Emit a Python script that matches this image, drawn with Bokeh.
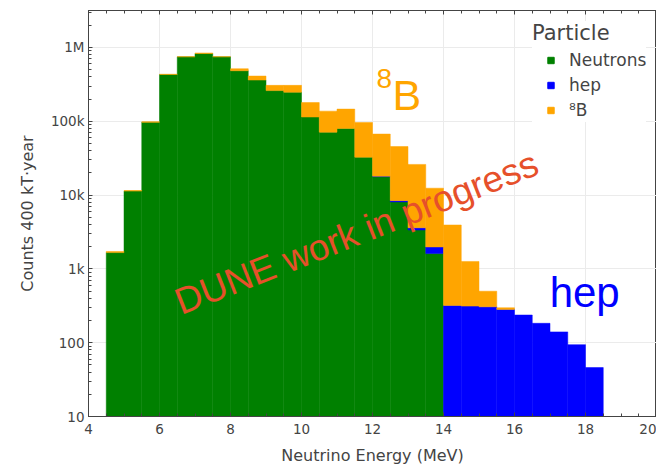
from bokeh.plotting import figure
from bokeh.models import (FixedTicker, LinearAxis, Range1d, Label, Legend, LegendItem)
from bokeh.embed import file_html
from bokeh.resources import INLINE

# ---- data (counts per 0.5 MeV bin) ----
bin_left = [4.5, 5.0, 5.5, 6.0, 6.5, 7.0, 7.5, 8.0, 8.5, 9.0, 9.5, 10.0, 10.5, 11.0,
            11.5, 12.0, 12.5, 13.0, 13.5, 14.0, 14.5, 15.0, 15.5, 16.0, 16.5, 17.0, 17.5, 18.0]
bin_width = 0.5
neutrons = [1660, 11300, 97000, 430000, 745000, 826000, 745000, 483000, 361000, 260000,
            247000, 114000, 71000, 80000, 32600, 17700, 8070, 3360, 1610, 0,
            0, 0, 0, 0, 0, 0, 0, 0]
hep = [0, 0, 0, 0, 0, 0, 0, 0, 0, 0,
       0, 0, 0, 0, 0, 300, 330, 240, 370, 318,
       312, 305, 281, 236, 182, 139, 93, 45]
b8 = [60, 200, 1000, 2000, 5000, 14000, 5000, 31000, 48000, 46000,
      59000, 65000, 66000, 66000, 63400, 49000, 37000, 22400, 10400, 3610,
      948, 192, 15, 0, 0, 0, 0, 0]
series = [neutrons, hep, b8]
series_names = ["Neutrons", "hep", "\u2078B"]
series_colors = ["#008000", "#0000ff", "#ffa500"]

x_major = [4, 6, 8, 10, 12, 14, 16, 18, 20]
x_minor = [4 + 0.5 * i for i in range(33)]
y_major = [10, 100, 1000, 10000, 100000, 1000000]
y_labels = {10: "10", 100: "100", 1000: "1k", 10000: "10k", 100000: "100k", 1000000: "1M"}
y_minor = [k * 10 ** d for d in range(1, 7) for k in range(2, 10)]

TXT = "#444444"
FONT = "DejaVu Sans"

p = figure(width=656, height=467, x_range=Range1d(4, 20), y_range=Range1d(10, 10 ** 6.5),
           y_axis_type="log", output_backend="svg", toolbar_location=None,
           min_border_left=88, min_border_right=0, min_border_top=10, min_border_bottom=50,
           background_fill_color="white", border_fill_color="white")
p.outline_line_color = "#444444"
p.outline_line_width = 1

# stacked bars
bottoms = [1.0] * len(bin_left)
for vals, col in zip(series, series_colors):
    L, R, B, T = [], [], [], []
    for i, v in enumerate(vals):
        if v > 0:
            L.append(bin_left[i]); R.append(bin_left[i] + bin_width)
            B.append(bottoms[i]); T.append(bottoms[i] + v)
        bottoms[i] = bottoms[i] + v
    p.quad(left=L, right=R, bottom=B, top=T, fill_color=col, line_color=col, line_width=0.5)

# legend proxies: hidden square-marker renderers (shown only as legend glyphs)
legend_renderers = []
for vals, col in zip(series, series_colors):
    r = p.scatter(x=bin_left, y=vals, marker="square", size=10, fill_color=col, line_color=col)
    r.visible = False
    legend_renderers.append(r)

# axes
xa = p.xaxis[0]
xa.ticker = FixedTicker(ticks=x_major, minor_ticks=x_minor)
ya = p.yaxis[0]
ya.ticker = FixedTicker(ticks=y_major, minor_ticks=y_minor)
ya.major_label_overrides = y_labels
for ax in (xa, ya):
    ax.axis_line_color = "#444444"
    ax.major_tick_line_color = "#444444"
    ax.minor_tick_line_color = "#444444"
    ax.major_tick_in = 4
    ax.major_tick_out = 0
    ax.minor_tick_in = 3
    ax.minor_tick_out = 0
    ax.major_label_text_font = FONT
    ax.major_label_text_font_size = "13.5px"
    ax.major_label_text_color = TXT
    ax.axis_label_text_font = FONT
    ax.axis_label_text_font_size = "16px"
    ax.axis_label_text_color = TXT
    ax.axis_label_text_font_style = "normal"
xa.axis_label = "Neutrino Energy (MeV)"
xa.major_label_standoff = 7
xa.axis_label_standoff = 9
ya.axis_label = "Counts 400 kT\u00b7year"
ya.major_label_standoff = 4
ya.axis_label_standoff = 11

top_ax = LinearAxis(ticker=FixedTicker(ticks=x_major, minor_ticks=x_minor),
                    major_label_text_font_size="0px", major_label_standoff=0,
                    major_tick_in=4, major_tick_out=0, minor_tick_in=3, minor_tick_out=0,
                    axis_line_color="#444444", major_tick_line_color="#444444",
                    minor_tick_line_color="#444444")
p.add_layout(top_ax, "above")

p.xgrid.ticker = FixedTicker(ticks=x_major)
p.ygrid.ticker = FixedTicker(ticks=y_major)
p.xgrid.grid_line_color = "#ebebeb"
p.ygrid.grid_line_color = "#ebebeb"

# legend
legend = Legend(items=[LegendItem(label=n, renderers=[r]) for n, r in zip(series_names, legend_renderers)],
                location=(444, 294), title="Particle",
                title_text_font=FONT, title_text_font_size="21px", title_text_color=TXT,
                title_text_font_style="normal", title_standoff=2,
                label_text_font=FONT, label_text_font_size="17px", label_text_color=TXT,
                glyph_width=37, glyph_height=16, label_standoff=0, label_height=25,
                spacing=0, padding=4, margin=0, border_line_color=None,
                inactive_fill_alpha=0.0,
                background_fill_color="white", background_fill_alpha=1.0)
p.add_layout(legend, "center")

# annotations
p.add_layout(Label(x=12.113, y=376700, text="8", text_font="Liberation Sans",
                   text_font_size="28px", text_color="#ffa500", text_baseline="alphabetic"))
p.add_layout(Label(x=12.563, y=229600, text="B", text_font="Liberation Sans",
                   text_font_size="43px", text_color="#ffa500", text_baseline="alphabetic"))
p.add_layout(Label(x=16.99, y=481, text="hep", text_font="Liberation Sans",
                   text_font_size="42px", text_color="#0000ff", text_baseline="alphabetic"))
p.add_layout(Label(x=11.55, y=3090, text="DUNE work in progress", text_font="Liberation Sans",
                   text_font_size="37px", text_color="#e6502a", text_align="center",
                   text_baseline="middle", angle=0.375))

open("out.html", "w").write(file_html(p, INLINE))
